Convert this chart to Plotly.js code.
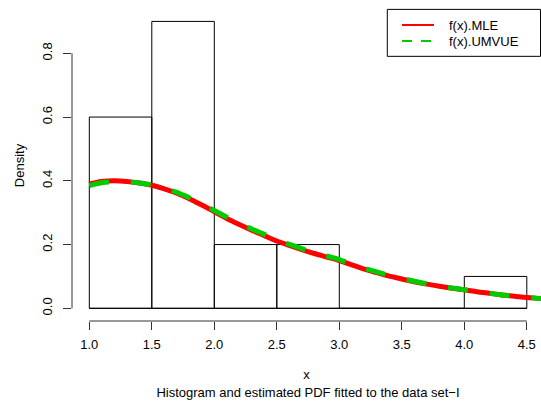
<!DOCTYPE html>
<html>
<head>
<meta charset="utf-8">
<script src="https://cdn.plot.ly/plotly-3.0.1.min.js"></script>
<style>html,body{margin:0;padding:0;background:#fff;}#chart{width:541px;height:403px;}</style>
</head>
<body>
<div id="chart"></div>
<script>
// Histogram (density scale)
const binEdges = [1.0, 1.5, 2.0, 2.5, 3.0, 3.5, 4.0, 4.5];
const binDensity = [0.6, 0.9, 0.2, 0.2, 0.0, 0.0, 0.1];

// Estimated PDF curves
const curveX = [1.0, 1.1, 1.2, 1.3, 1.4, 1.5, 1.6, 1.7, 1.8, 1.9, 2.0, 2.1, 2.2, 2.3, 2.4, 2.5, 2.6, 2.7, 2.8, 2.9, 3.0, 3.1, 3.2, 3.3, 3.4, 3.5, 3.6, 3.7, 3.8, 3.9, 4.0, 4.1, 4.2, 4.3, 4.4, 4.5, 4.6, 4.7];
const mleY = [0.390, 0.398, 0.400, 0.398, 0.393, 0.386, 0.375, 0.361, 0.344, 0.324, 0.303, 0.282, 0.263, 0.245, 0.228, 0.211, 0.197, 0.184, 0.172, 0.161, 0.150, 0.136, 0.123, 0.112, 0.101, 0.092, 0.083, 0.076, 0.069, 0.063, 0.058, 0.052, 0.047, 0.042, 0.038, 0.034, 0.031, 0.028];
const umvueY = [0.385, 0.394, 0.397, 0.397, 0.393, 0.387, 0.377, 0.364, 0.347, 0.328, 0.307, 0.286, 0.267, 0.249, 0.232, 0.215, 0.201, 0.187, 0.175, 0.164, 0.153, 0.139, 0.126, 0.114, 0.103, 0.094, 0.085, 0.077, 0.070, 0.064, 0.058, 0.053, 0.047, 0.042, 0.038, 0.034, 0.031, 0.028];

const seriesNames = ['f(x).MLE', 'f(x).UMVUE'];
const xTicks = [1.0, 1.5, 2.0, 2.5, 3.0, 3.5, 4.0, 4.5];
const xTickText = ['1.0', '1.5', '2.0', '2.5', '3.0', '3.5', '4.0', '4.5'];
const yTicks = [0.0, 0.2, 0.4, 0.6, 0.8];
const yTickText = ['0.0', '0.2', '0.4', '0.6', '0.8'];
const xLabel = 'x';
const yLabel = 'Density';
const subTitle = 'Histogram and estimated PDF fitted to the data set\u2212I';

const FONT = '"Liberation Sans", Arial, Helvetica, sans-serif';
const AXC = '#333';

const centers = binDensity.map((_, i) => (binEdges[i] + binEdges[i + 1]) / 2);
const widths = binDensity.map((_, i) => binEdges[i + 1] - binEdges[i]);

const traces = [
  {
    type: 'bar', x: centers, y: binDensity, width: widths,
    marker: {color: 'rgba(0,0,0,0)', line: {color: '#000', width: 1}},
    showlegend: false, hoverinfo: 'skip'
  },
  {
    type: 'scatter', mode: 'lines', x: curveX, y: mleY, name: seriesNames[0],
    line: {color: '#FF0000', width: 5, shape: 'spline'}, showlegend: false
  },
  {
    type: 'scatter', mode: 'lines', x: curveX, y: umvueY, name: seriesNames[1],
    line: {color: '#00CD00', width: 5, dash: '20px,22px', shape: 'spline'}, showlegend: false
  }
];

// manual R-style legend (paper coords)
const lgL = 0.6723, lgR = 0.9990, lgT = 1.002, lgB = 0.851;
const row = [0.9516, 0.9000];
const lnX0 = 0.7036, lnX1 = 0.7719, txX = 0.8000;

const shapes = [
  // axis lines spanning tick range (R style)
  {type: 'line', xref: 'x', yref: 'paper', x0: xTicks[0], x1: xTicks[xTicks.length - 1], y0: 0, y1: 0, line: {color: AXC, width: 1}},
  {type: 'line', xref: 'paper', yref: 'y', x0: 0, x1: 0, y0: yTicks[0], y1: yTicks[yTicks.length - 1], line: {color: AXC, width: 1}},
  // baseline of the histogram (empty bins)
  {type: 'line', xref: 'x', yref: 'y', x0: binEdges[0], x1: binEdges[binEdges.length - 1], y0: 0, y1: 0, line: {color: '#000', width: 1}, layer: 'below'},
  // legend box
  {type: 'rect', xref: 'paper', yref: 'paper', x0: lgL, x1: lgR, y0: lgB, y1: lgT, line: {color: '#000', width: 1}, fillcolor: '#fff'},
  {type: 'line', xref: 'paper', yref: 'paper', x0: lnX0, x1: lnX1, y0: row[0], y1: row[0], line: {color: '#FF0000', width: 2}},
  {type: 'line', xref: 'paper', yref: 'paper', x0: lnX0, x1: lnX1, y0: row[1], y1: row[1], line: {color: '#00CD00', width: 2, dash: '10px,9px'}}
];

const annotations = seriesNames.map((n, i) => ({
  xref: 'paper', yref: 'paper', x: txX, y: row[i], xanchor: 'left', yanchor: 'middle',
  text: n, showarrow: false, font: {family: FONT, size: 13, color: '#000'}
}));

const layout = {
  width: 541, height: 403,
  margin: {l: 72, r: 0, t: 10, b: 82, pad: 0},
  paper_bgcolor: '#fff', plot_bgcolor: '#fff',
  font: {family: FONT, size: 13, color: '#000'},
  showlegend: false,
  barmode: 'overlay',
  title: {
    text: subTitle, font: {family: FONT, size: 13, color: '#000'},
    xref: 'paper', x: 0.5032, xanchor: 'center',
    yref: 'container', y: 1 - 392 / 403, yanchor: 'middle'
  },
  xaxis: {
    range: [0.8616, 4.6136], showgrid: false, zeroline: false, showline: false,
    tickmode: 'array', tickvals: xTicks, ticktext: xTickText,
    ticks: 'outside', ticklen: 8, tickwidth: 1, tickcolor: AXC,
    ticklabelstandoff: 3,
    tickfont: {family: FONT, size: 13, color: '#000'},
    title: {text: xLabel, font: {family: FONT, size: 13, color: '#000'}, standoff: 19},
    fixedrange: true
  },
  yaxis: {
    range: [-0.0398, 0.9358], showgrid: false, zeroline: false, showline: false,
    tickmode: 'array', tickvals: yTicks, ticktext: yTickText,
    ticks: 'outside', ticklen: 8, tickwidth: 1, tickcolor: AXC,
    tickangle: -90, ticklabelstandoff: 6,
    tickfont: {family: FONT, size: 13, color: '#000'},
    title: {text: yLabel, font: {family: FONT, size: 13, color: '#000'}, standoff: 12},
    fixedrange: true
  },
  shapes: shapes,
  annotations: annotations
};

Plotly.newPlot('chart', traces, layout, {displayModeBar: false, staticPlot: true});
</script>
</body>
</html>
